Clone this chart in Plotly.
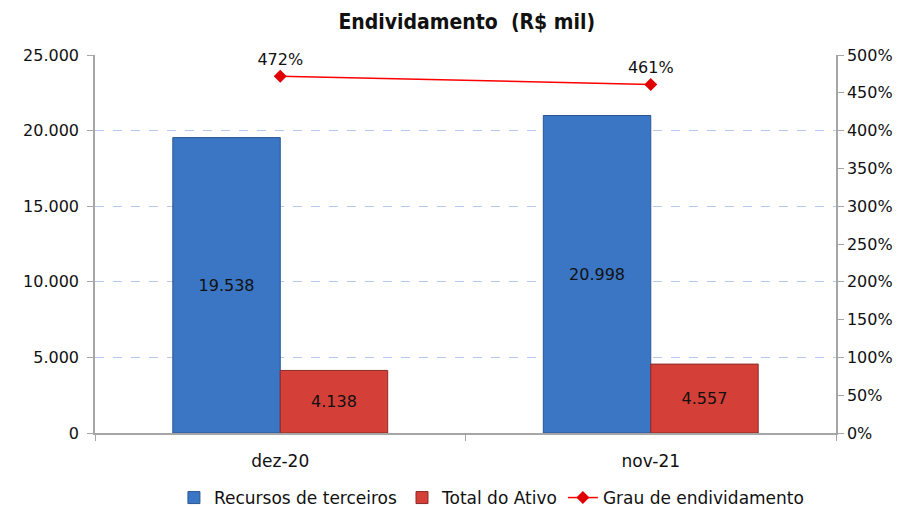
import plotly.graph_objs as go

categorias = ["dez-20", "nov-21"]
recursos_terceiros = [19538, 20998]
total_ativo = [4138, 4557]
grau_endividamento = [4.72, 4.61]

left_ticks = [0, 5000, 10000, 15000, 20000, 25000]
right_ticks = [0, 0.5, 1, 1.5, 2, 2.5, 3, 3.5, 4, 4.5, 5]

narrow = "DejaVu Sans Condensed, Liberation Sans Narrow, sans-serif"
wide = "DejaVu Sans, Verdana, sans-serif"

fig = go.Figure()
fig.add_trace(go.Bar(
    x = categorias,
    y = recursos_terceiros,
    name = "Recursos de terceiros",
    marker = dict(color = "#3b76c4", line = dict(color = "#2a5794", width = 1)),
    texttemplate = "%{y:,d}",
    textposition = "inside",
    insidetextanchor = "middle",
    textfont = dict(family = wide, size = 16, color = "#111111"),
))
fig.add_trace(go.Bar(
    x = categorias,
    y = total_ativo,
    name = "Total do Ativo",
    marker = dict(color = "#d43f38", line = dict(color = "#8c2a25", width = 1)),
    texttemplate = "%{y:,d}",
    textposition = "inside",
    insidetextanchor = "middle",
    textfont = dict(family = wide, size = 16, color = "#111111"),
))
fig.add_trace(go.Scatter(
    x = categorias,
    y = grau_endividamento,
    name = "Grau de endividamento",
    yaxis = "y2",
    mode = "lines+markers+text",
    line = dict(color = "#ff0000", width = 1.5),
    marker = dict(symbol = "diamond", size = 10, color = "#e00000"),
    text = ["{:.0f}%".format(v * 100) for v in grau_endividamento],
    textposition = "top center",
    textfont = dict(family = wide, size = 16, color = "#111111"),
    cliponaxis = False,
))

# the page puts the figure 8px in from the top-left corner, so it is drawn 8px smaller
fig.update_layout(
    width = 896,
    height = 499,
    separators = ",.",
    paper_bgcolor = "white",
    plot_bgcolor = "white",
    margin = dict(l = 87, r = 68, t = 47, b = 74, autoexpand = False),
    title = dict(
        text = "<b>Endividamento  (R$ mil)</b>",
        x = 0.512, xanchor = "center",
        y = 0.972, yanchor = "middle",
        font = dict(family = narrow, size = 21, color = "#111111"),
    ),
    barmode = "group",
    bargap = 0.42,
    bargroupgap = 0,
    showlegend = True,
    legend = dict(
        orientation = "h",
        x = 0.535, xanchor = "center",
        y = -0.172, yanchor = "middle",
        font = dict(family = wide, size = 17, color = "#111111"),
        traceorder = "normal",
        itemwidth = 30,
    ),
    xaxis = dict(
        automargin = False,
        showline = True, linecolor = "#a6a6a6", linewidth = 1.5,
        ticks = "outside", tickson = "boundaries", ticklen = 6, tickcolor = "#a6a6a6",
        ticklabelstandoff = 12,
        tickfont = dict(family = wide, size = 17, color = "#111111"),
        showgrid = False,
    ),
    yaxis = dict(
        automargin = False,
        range = [0, 25000],
        tickvals = left_ticks,
        tickformat = ",d",
        showline = True, linecolor = "#a6a6a6", linewidth = 1.5,
        ticks = "outside", ticklen = 6, tickcolor = "#a6a6a6",
        ticklabelstandoff = 5,
        tickfont = dict(family = wide, size = 16, color = "#111111"),
        showgrid = True, gridcolor = "#b4c9ec", griddash = "dash", gridwidth = 1,
        zeroline = False,
    ),
    yaxis2 = dict(
        automargin = False,
        range = [0, 5],
        tickvals = right_ticks,
        tickformat = ".0%",
        overlaying = "y",
        side = "right",
        showline = True, linecolor = "#a6a6a6", linewidth = 1.5,
        ticks = "outside", ticklen = 6, tickcolor = "#a6a6a6",
        tickfont = dict(family = wide, size = 16, color = "#111111"),
        showgrid = False, zeroline = False,
    ),
)

fig.write_html("out.html")
